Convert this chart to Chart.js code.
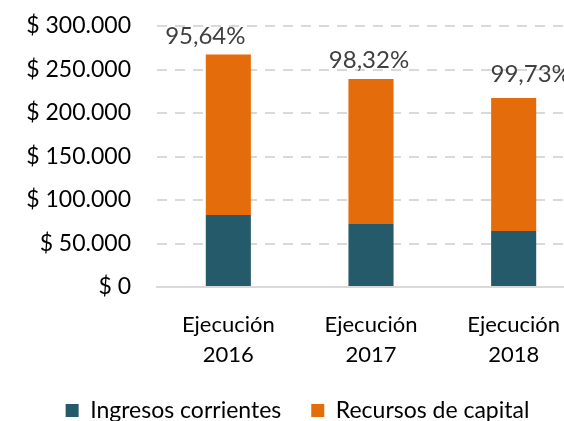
<!DOCTYPE html>
<html><head><meta charset="utf-8">
<script src="https://cdn.jsdelivr.net/npm/chart.js@4/dist/chart.umd.min.js"></script>
<style>html,body{margin:0;padding:0;background:#fff;overflow:hidden;width:564px;height:421px}#wrap{width:564px;height:421px;overflow:hidden}</style>
</head><body><div id="wrap"><canvas id="c" width="626" height="421"></canvas></div>
<script>
const categories = [["Ejecución","2016"],["Ejecución","2017"],["Ejecución","2018"]];
const ingresosCorrientes = [82700, 73000, 64300];
const recursosCapital = [184600, 166200, 153000];
const ejecucionLabels = ["95,64%", "98,32%", "99,73%"];
const yTicks = [0, 50000, 100000, 150000, 200000, 250000, 300000];

const FONT = "Lato";
function fmt(v){ return "$ " + v.toLocaleString("de-DE"); }

const topLabels = {
  id: "topLabels",
  afterDatasetsDraw(chart, args, opts){
    const ctx = chart.ctx;
    const last = chart.getDatasetMeta(chart.data.datasets.length-1);
    const off = opts.offsets || [];
    ctx.save();
    ctx.font = "24px " + FONT;
    ctx.fillStyle = "#404040";
    ctx.textAlign = "center";
    ctx.textBaseline = "middle";
    last.data.forEach((el,i)=>{
      const o = off[i] || [0,-19];
      ctx.fillText(ejecucionLabels[i], el.x + o[0], el.y + o[1]);
    });
    ctx.restore();
  }
};
const legendShift = {
  id: "legendShift",
  afterLayout(chart){
    const l = chart.legend; if(!l) return;
    l.left += 5; l.right += 5; l.top -= 10; l.bottom -= 10;
  }
};

new Chart(document.getElementById("c"), {
  type: "bar",
  data: {
    labels: categories,
    datasets: [
      {label:"Ingresos corrientes", data: ingresosCorrientes, backgroundColor:"#245A69", borderWidth:0, categoryPercentage:1, barPercentage:0.316},
      {label:"Recursos de capital", data: recursosCapital, backgroundColor:"#E46C0A", borderWidth:0, categoryPercentage:1, barPercentage:0.316}
    ]
  },
  options: {
    responsive:false, animation:false,
    layout:{padding:{top:26,right:41,left:0,bottom:-21}},
    plugins:{
      legend:{position:"bottom", labels:{font:{family:FONT,size:23}, color:"#000", boxWidth:13, boxHeight:13, padding:30}},
      tooltip:{enabled:false},
      topLabels:{offsets:[[-23,-18],[-2,-19],[17,-24]]}
    },
    scales:{
      x:{stacked:true, grid:{display:false, drawTicks:false}, border:{display:true,color:"#D9D9D9",width:2},
         ticks:{font:{family:FONT,size:22,lineHeight:1.36}, color:"#000", padding:23, maxRotation:0},
         afterFit(s){ s.height = 92; }},
      y:{stacked:true, min:0, max:300000, afterBuildTicks(s){ s.ticks = yTicks.map(v=>({value:v})); },
         grid:{color:"#D9D9D9", lineWidth:2, drawTicks:true, tickLength:26, tickColor:"rgba(0,0,0,0)"}, border:{display:false, dash:[10,8]},
         ticks:{font:{family:FONT,size:23}, color:"#000", padding:0, callback:v=>fmt(v)},
         afterFit(s){ s.width = 157; }}
    }
  },
  plugins:[topLabels, legendShift]
});
</script></body></html>
